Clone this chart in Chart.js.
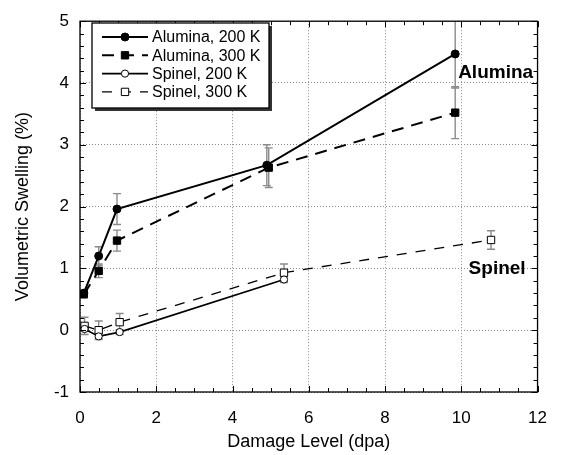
<!DOCTYPE html>
<html lang="en">
<head>
<meta charset="UTF-8" />
<title>Volumetric Swelling vs Damage Level</title>
<script src="https://cdn.jsdelivr.net/npm/chart.js@4"></script>
<style>
  html, body { margin: 0; padding: 0; background: #fff; }
  #wrap { width: 563px; height: 455px; }
</style>
</head>
<body>
<div id="wrap"><canvas id="myChart" width="563" height="455"></canvas></div>
<script>
// ---- data ----
const seriesNames = ["Alumina, 200 K", "Alumina, 300 K", "Spinel, 200 K", "Spinel, 300 K"];

const alumina200X = [0.1, 0.49, 0.97, 4.9, 9.84];
const alumina200Y = [0.6, 1.2, 1.96, 2.67, 4.47];
const alumina200Err = [0.04, 0.15, 0.25, 0.33, 0.55];

const alumina300X = [0.1, 0.49, 0.97, 4.95, 9.84];
const alumina300Y = [0.58, 0.96, 1.45, 2.63, 3.52];
const alumina300Err = [0.04, 0.11, 0.17, 0.32, 0.42];

const spinel200X = [0.12, 0.49, 1.04, 5.35];
const spinel200Y = [0.02, -0.1, -0.03, 0.82];
const spinel200Err = [0.04, 0.04, 0.04, 0.05];

const spinel300X = [0.12, 0.49, 1.04, 5.35, 10.78];
const spinel300Y = [0.07, 0.0, 0.13, 0.93, 1.46];
const spinel300Err = [0.14, 0.15, 0.14, 0.14, 0.15];

const xTicks = [0, 2, 4, 6, 8, 10, 12];
const yTicks = [-1, 0, 1, 2, 3, 4, 5];

// region labels placed in data units
const regionLabels = [
  { text: "Alumina", x: 10.9, y: 4.16 },
  { text: "Spinel", x: 10.94, y: 0.99 },
];

const FONT = "'Liberation Sans', Arial, sans-serif";

function toPoints(xs, ys, errs) {
  return xs.map((x, i) => ({ x: x, y: ys[i], err: errs[i] }));
}

// gray error bars, behind markers
const errorBarPlugin = {
  id: "errorBars",
  beforeDatasetsDraw(chart) {
    const ctx = chart.ctx;
    const xs = chart.scales.x, ys = chart.scales.y;
    const area = chart.chartArea;
    ctx.save();
    ctx.beginPath();
    ctx.rect(area.left, area.top, area.right - area.left, area.bottom - area.top);
    ctx.clip();
    ctx.strokeStyle = "#8a8a8a";
    ctx.lineWidth = 1.4;
    chart.data.datasets.forEach((ds) => {
      ds.data.forEach((p) => {
        const px = xs.getPixelForValue(p.x);
        const top = ys.getPixelForValue(p.y + p.err);
        const bot = ys.getPixelForValue(p.y - p.err);
        ctx.beginPath();
        ctx.moveTo(px, top); ctx.lineTo(px, bot);
        ctx.moveTo(px - 4, top); ctx.lineTo(px + 4, top);
        ctx.moveTo(px - 4, bot); ctx.lineTo(px + 4, bot);
        ctx.stroke();
      });
    });
    ctx.restore();
  },
};

// frame with inward minor/major ticks on all four sides
const framePlugin = {
  id: "frame",
  afterDatasetsDraw(chart) {
    const ctx = chart.ctx;
    const xs = chart.scales.x, ys = chart.scales.y;
    const a = chart.chartArea;
    ctx.save();
    ctx.strokeStyle = "#000";
    ctx.lineWidth = 1.3;
    ctx.strokeRect(a.left, a.top, a.right - a.left, a.bottom - a.top);
    ctx.lineWidth = 1;
    ctx.beginPath();
    for (let v = xs.min; v <= xs.max + 1e-9; v += 0.5) {
      const px = Math.round(xs.getPixelForValue(v)) + 0.5;
      const len = Math.abs(v % 2) < 1e-9 ? 6 : 4;
      ctx.moveTo(px, a.bottom); ctx.lineTo(px, a.bottom - len);
      ctx.moveTo(px, a.top); ctx.lineTo(px, a.top + len);
    }
    for (let v = ys.min; v <= ys.max + 1e-9; v += 0.2) {
      const py = Math.round(ys.getPixelForValue(v)) + 0.5;
      const len = Math.abs(Math.round(v * 5) % 5) === 0 ? 6 : 4;
      ctx.moveTo(a.left, py); ctx.lineTo(a.left + len, py);
      ctx.moveTo(a.right, py); ctx.lineTo(a.right - len, py);
    }
    ctx.stroke();
    ctx.restore();
  },
  afterDraw(chart) {
    const ctx = chart.ctx;
    const xs = chart.scales.x, ys = chart.scales.y;
    ctx.save();
    // region labels
    ctx.fillStyle = "#000";
    ctx.font = "bold 19px " + FONT;
    ctx.textAlign = "center";
    ctx.textBaseline = "middle";
    regionLabels.forEach((l) => {
      ctx.fillText(l.text, xs.getPixelForValue(l.x), ys.getPixelForValue(l.y));
    });

    // legend box
    const bx = 92, by = 23, bw = 177, bh = 85;
    ctx.fillStyle = "#333";
    ctx.fillRect(bx + 3, by + 3, bw, bh);
    ctx.fillStyle = "#fff";
    ctx.fillRect(bx, by, bw, bh);
    ctx.strokeStyle = "#000";
    ctx.lineWidth = 1.3;
    ctx.strokeRect(bx, by, bw, bh);

    ctx.font = "16px " + FONT;
    ctx.textAlign = "left";
    chart.data.datasets.forEach((ds, i) => {
      const ry = by + 14 + i * 18.3;
      ctx.strokeStyle = "#000";
      ctx.lineWidth = ds.borderWidth;
      ctx.setLineDash(ds.borderDash || []);
      ctx.beginPath();
      ctx.moveTo(102, ry); ctx.lineTo(148, ry);
      ctx.stroke();
      ctx.setLineDash([]);
      ctx.lineWidth = 1;
      ctx.fillStyle = ds.pointBackgroundColor;
      ctx.beginPath();
      if (ds.pointStyle === "rect") {
        const s = ds.pointRadius * Math.SQRT1_2;
        ctx.rect(125 - s, ry - s, 2 * s, 2 * s);
      } else {
        ctx.arc(125, ry, ds.pointRadius, 0, Math.PI * 2);
      }
      ctx.fill();
      ctx.stroke();
      ctx.fillStyle = "#000";
      ctx.fillText(ds.label, 152, ry + 1);
    });
    ctx.restore();
  },
};

const config = {
  type: "scatter",
  data: {
    datasets: [
      {
        label: seriesNames[0],
        data: toPoints(alumina200X, alumina200Y, alumina200Err),
        showLine: true,
        borderColor: "#000",
        borderWidth: 2,
        pointStyle: "circle",
        pointRadius: 4,
        pointBackgroundColor: "#000",
        pointBorderColor: "#000",
        pointBorderWidth: 1,
      },
      {
        label: seriesNames[1],
        data: toPoints(alumina300X, alumina300Y, alumina300Err),
        showLine: true,
        borderColor: "#000",
        borderWidth: 2,
        borderDash: [12, 8],
        pointStyle: "rect",
        pointRadius: 5.2,
        pointBackgroundColor: "#000",
        pointBorderColor: "#000",
        pointBorderWidth: 1,
      },
      {
        label: seriesNames[2],
        data: toPoints(spinel200X, spinel200Y, spinel200Err),
        showLine: true,
        borderColor: "#000",
        borderWidth: 1.7,
        pointStyle: "circle",
        pointRadius: 3.6,
        pointBackgroundColor: "#fff",
        pointBorderColor: "#000",
        pointBorderWidth: 1,
      },
      {
        label: seriesNames[3],
        data: toPoints(spinel300X, spinel300Y, spinel300Err),
        showLine: true,
        borderColor: "#000",
        borderWidth: 1.3,
        borderDash: [10, 9],
        pointStyle: "rect",
        pointRadius: 5.2,
        pointBackgroundColor: "#fff",
        pointBorderColor: "#000",
        pointBorderWidth: 1,
      },
    ],
  },
  options: {
    responsive: false,
    animation: false,
    layout: { padding: { left: 0, top: 15, right: 18, bottom: 0 } },
    plugins: {
      legend: { display: false },
      tooltip: { enabled: false },
    },
    scales: {
      x: {
        type: "linear",
        min: 0,
        max: 12,
        afterFit(scale) { scale.height = 63; },
        afterBuildTicks(scale) { scale.ticks = xTicks.map((v) => ({ value: v })); },
        ticks: { color: "#000", font: { family: FONT, size: 17 }, padding: 16 },
        grid: { color: "#8c8c8c", drawTicks: false, lineWidth: 1 },
        border: { display: false, dash: [1, 2] },
        title: {
          display: true,
          text: "Damage Level (dpa)",
          color: "#000",
          font: { family: FONT, size: 18 },
          padding: { top: 0, bottom: 2 },
        },
      },
      y: {
        type: "linear",
        min: -1,
        max: 5,
        afterFit(scale) { scale.width = 80; },
        afterBuildTicks(scale) { scale.ticks = yTicks.map((v) => ({ value: v })); },
        ticks: { color: "#000", font: { family: FONT, size: 17 }, padding: 11 },
        grid: { color: "#8c8c8c", drawTicks: false, lineWidth: 1 },
        border: { display: false, dash: [1, 2] },
        title: {
          display: true,
          text: "Volumetric Swelling (%)",
          color: "#000",
          font: { family: FONT, size: 18 },
          padding: { top: 12, bottom: 0 },
        },
      },
    },
  },
  plugins: [errorBarPlugin, framePlugin],
};

const myChart = new Chart(document.getElementById("myChart"), config);
</script>
</body>
</html>
